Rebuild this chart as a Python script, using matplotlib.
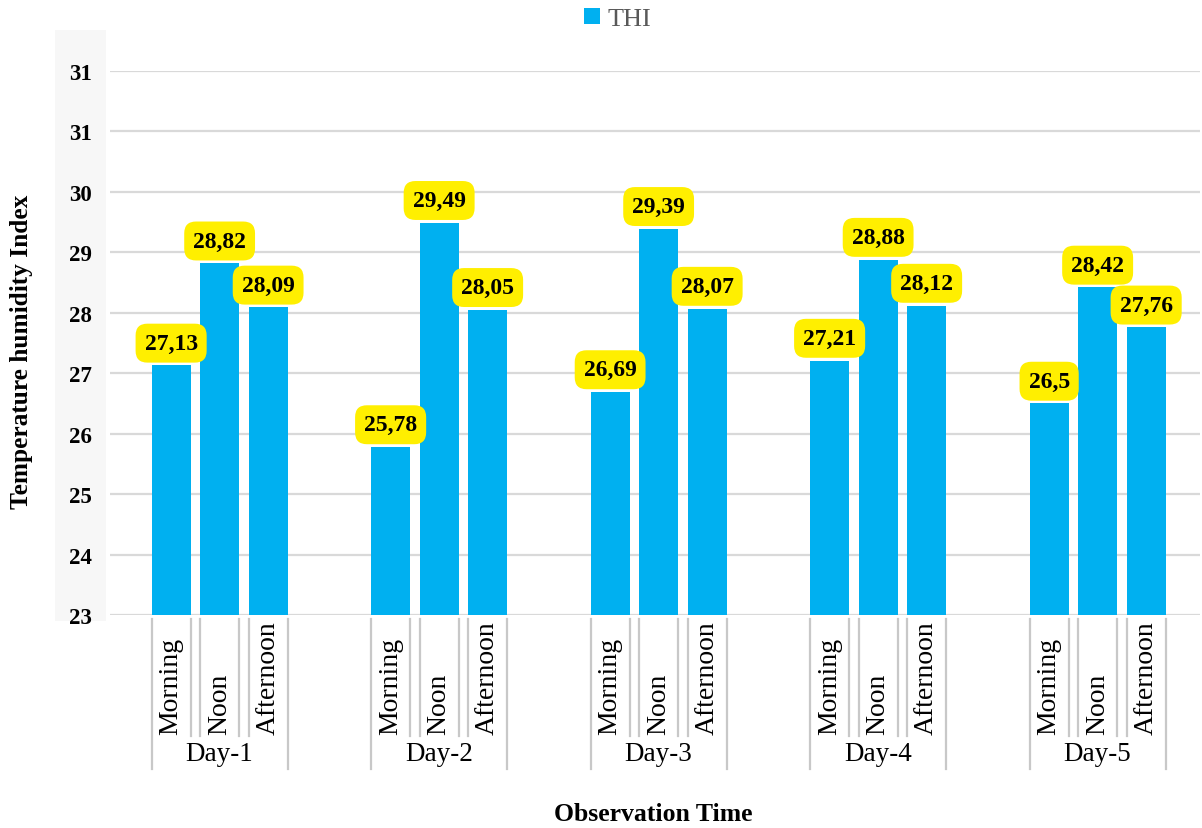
import matplotlib
matplotlib.use("Agg")
import matplotlib.pyplot as plt
from matplotlib.patches import Rectangle
from matplotlib.lines import Line2D

days = ["Day-1", "Day-2", "Day-3", "Day-4", "Day-5"]
times = ["Morning", "Noon", "Afternoon"]
thi = [
    [27.13, 28.82, 28.09],
    [25.78, 29.49, 28.05],
    [26.69, 29.39, 28.07],
    [27.21, 28.88, 28.12],
    [26.50, 28.42, 27.76],
]
ytick_vals = [23, 24, 25, 26, 27, 28, 29, 30, 31, 32]
ytick_labels = ["23", "24", "25", "26", "27", "28", "29", "30", "31", "31"]

plt.rcParams['font.family'] = ['Liberation Serif', 'DejaVu Serif']

W, H = 1202, 829
fig = plt.figure(figsize=(W / 100, H / 100), dpi=100)
fig.patch.set_facecolor("white")

# gray strip behind y tick labels
bg = fig.add_axes([55 / W, 1 - 622 / H, 51 / W, 591 / H])
bg.set_facecolor("#F7F7F7")
bg.set_xticks([])
bg.set_yticks([])
for s in bg.spines.values():
    s.set_visible(False)
bg.set_zorder(0)

ax = fig.add_axes([110 / W, 1 - 616 / H, (1200 - 110) / W, (616 - 72) / H])
ax.set_facecolor("none")
ax.set_zorder(1)

group_step = 4.525
bar_w = 0.8
xs = []
for d in range(len(days)):
    for k in range(len(times)):
        xs.append(d * group_step + k)
vals = [v for row in thi for v in row]
bars = ax.bar(xs, [v - 23 for v in vals], bottom=23, width=bar_w,
              color="#00B0F0", zorder=3, label="THI")

for x, v in zip(xs, vals):
    txt = f"{v:g}".replace(".", ",")
    ax.annotate(txt, (x, v), xytext=(0, 16), textcoords="offset points",
                ha="center", va="center", fontsize=17, fontweight="bold",
                color="black", zorder=5,
                bbox=dict(boxstyle="round,pad=0.38,rounding_size=0.5",
                          fc="#FFEF00", ec="none"))

x_left = -1.26
x_right = xs[-1] + 1.11
ax.set_xlim(x_left, x_right)
ax.set_ylim(23, 32)
ax.set_yticks(ytick_vals)
ax.set_yticklabels(ytick_labels, fontsize=16.5, fontweight="bold")
ax.tick_params(axis="y", length=0, pad=13)
ax.set_xticks([])
ax.grid(axis="y", color="#D9D9D9", linewidth=1.6, zorder=0)
for s in ax.spines.values():
    s.set_visible(False)

trans = ax.get_xaxis_transform()
ph = 616 - 72
for d in range(len(days)):
    for k in range(len(times)):
        x = d * group_step + k
        left = x - bar_w / 2
        right = x + bar_w / 2
        y0 = -4 / ph
        yl = -(770 - 616) / ph
        ys = -(737 - 616) / ph
        ax.add_line(Line2D([left, left], [y0, yl if k == 0 else ys], transform=trans,
                           color="#C8C8C8", lw=1.6, clip_on=False))
        ax.add_line(Line2D([right, right], [y0, yl if k == 2 else ys], transform=trans,
                           color="#C8C8C8", lw=1.6, clip_on=False))
        ax.text(x, -(735 - 616) / ph, times[k], transform=trans,
                rotation=90, ha="center", va="bottom", fontsize=20, color="black")
    ax.text(d * group_step + 1, -(755 - 616) / ph, days[d], transform=trans,
            ha="center", va="center", fontsize=19.5, color="black")

fig.text(22 / W, 1 - 352 / H, "Temperature humidity Index", rotation=90,
         ha="center", va="center", fontsize=18.3, fontweight="bold")
fig.text(653 / W, 1 - 815 / H, "Observation Time", ha="center", va="center",
         fontsize=18.5, fontweight="bold")

leg = fig.legend(handles=[Rectangle((0, 0), 1, 1, fc="#00B0F0", ec="none")],
                 labels=["THI"], loc="center", bbox_to_anchor=(618 / W, 1 - 20 / H),
                 frameon=False, fontsize=18.8, handlelength=0.6, handleheight=0.6,
                 handletextpad=0.3, labelcolor="#595959")

fig.savefig("out.png", dpi=100)
